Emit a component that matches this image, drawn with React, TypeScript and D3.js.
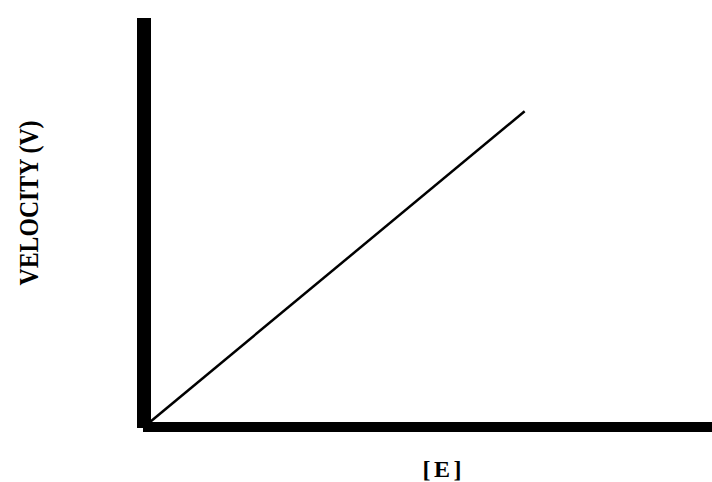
import React, { useRef, useEffect } from "react";
import * as d3 from "d3";

// substrate/enzyme concentration vs velocity (straight line through origin)
const enzymeConc = [0, 10];
const velocity = [0, 10];
const xLabel = "[E]";
const yLabel = "VELOCITY (V)";

const W = 712;
const H = 482;

const App = () => {
    const ref = useRef<SVGSVGElement>(null);

    useEffect(() => {
        const svg = d3.select(ref.current);
        svg.selectAll("*").remove();

        const x = d3.scaleLinear().domain([0, 15]).range([150, 712]);
        const y = d3.scaleLinear().domain([0, 13]).range([422, 18]);

        // y axis (thick bar)
        svg.append("rect")
            .attr("x", 137)
            .attr("y", y(13))
            .attr("width", 14)
            .attr("height", y(0) - y(13) + 6)
            .attr("fill", "black");

        // x axis (thick bar)
        svg.append("rect")
            .attr("x", 143)
            .attr("y", y(0))
            .attr("width", W - 143)
            .attr("height", 10)
            .attr("fill", "black");

        const pts = enzymeConc.map((e, i) => [e, velocity[i]] as [number, number]);
        const line = d3.line<[number, number]>()
            .x(d => x(d[0]))
            .y(d => y(d[1]));

        svg.append("path")
            .datum(pts)
            .attr("d", line)
            .attr("fill", "none")
            .attr("stroke", "black")
            .attr("stroke-width", 2.5);

        svg.append("text")
            .attr("transform", "translate(38,203) rotate(-90)")
            .attr("text-anchor", "middle")
            .attr("font-family", "Liberation Serif, Times New Roman, serif")
            .attr("font-weight", "bold")
            .attr("font-size", 27)
            .attr("textLength", 165)
            .attr("lengthAdjust", "spacingAndGlyphs")
            .text(yLabel);

        svg.append("text")
            .attr("x", 442)
            .attr("y", 477)
            .attr("text-anchor", "middle")
            .attr("font-family", "Liberation Serif, Times New Roman, serif")
            .attr("font-weight", "bold")
            .attr("font-size", 24)
            .attr("textLength", 39)
            .attr("lengthAdjust", "spacing")
            .text(xLabel);
    }, []);

    return (
        <svg
            ref={ref}
            width={W}
            height={H}
            style={{ position: "fixed", top: 0, left: 0, background: "white" }}
        />
    );
};

export default App;
